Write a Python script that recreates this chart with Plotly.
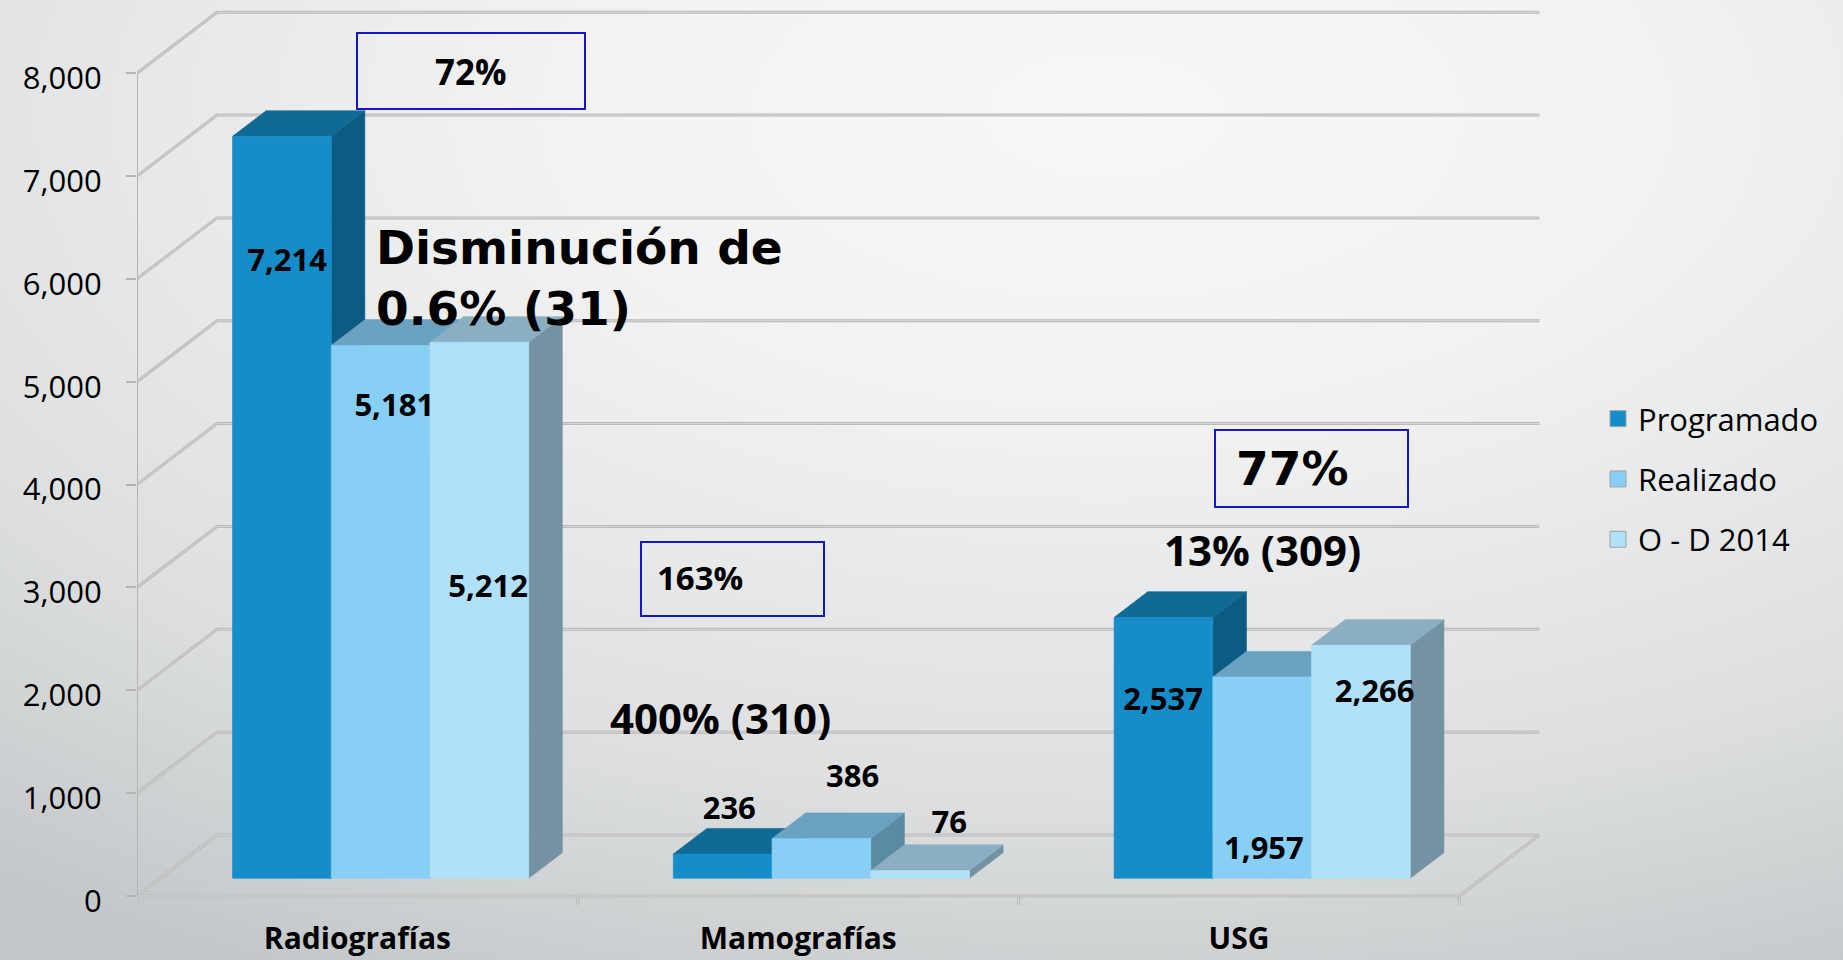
import base64
import plotly.graph_objects as go

# ---------------- data ----------------
categories = ["Radiografías", "Mamografías", "USG"]
series_names = ["Programado", "Realizado", "O - D 2014"]
programado = [7214, 236, 2537]
realizado = [5181, 386, 1957]
od_2014 = [5212, 76, 2266]
y_ticks = [0, 1000, 2000, 3000, 4000, 5000, 6000, 7000, 8000]

series_values = [programado, realizado, od_2014]

# ---------------- style ----------------
front_colors = ["#168DC9", "#88CFF6", "#B1E1F8"]
top_colors = ["#0F6A96", "#6AA3C2", "#8AAEC2"]
side_colors = ["#0D5B82", "#5B8AA3", "#7592A3"]
grid_color = "#B9B9B9"
grid_inner = "#D8D9D9"

# data-label placement (value units on the front plane / x offset in category units)
label_y = [[6149, 823, 1886], [4743, 1131, 434], [2983, 686, 1966]]
label_dx = [[0.012, 0.015, -0.001], [0.031, 0.071, 0.004], [0.020, 0.066, 0.031]]

W, H = 1843, 960
ML, MR, MT, MB = 137, 0, 0, 42
PX_PER_CAT = 440.8
PX_PER_UNIT = 0.10285
FLOOR_PX = 896.0

DX = 80 / PX_PER_CAT          # depth of the 3D box in category units
DY = 61 / PX_PER_UNIT         # depth of the 3D box in value units
BW = 0.224                    # bar width (category units)
F0 = 0.29                     # bar front position within depth
FD = 0.42                     # bar depth fraction


def xd(px):
    return (px - ML) / PX_PER_CAT - 0.5


def yd(py):
    return (FLOOR_PX - py) / PX_PER_UNIT


n_cat = len(categories)
x_left = -0.5
x_right = n_cat - 0.5
y_max = y_ticks[-1]

fig = go.Figure()


def line_trace(xs, ys, double=True):
    fig.add_trace(go.Scatter(x=xs, y=ys, mode="lines", line=dict(color=grid_color, width=3),
                             hoverinfo="skip", showlegend=False))
    if double:
        fig.add_trace(go.Scatter(x=xs, y=ys, mode="lines", line=dict(color=grid_inner, width=1),
                                 hoverinfo="skip", showlegend=False))


# ---------------- walls / grid ----------------
gx, gy = [], []
for v in y_ticks:
    gx += [x_left, x_left + DX, x_right + DX, None]
    gy += [v, v + DY, v + DY, None]
line_trace(gx, gy)
line_trace([x_left, x_right, x_right + DX], [0, 0, DY])
fig.add_trace(go.Scatter(x=[x_left, x_left], y=[0, y_max], mode="lines",
                         line=dict(color="#B4B4B4", width=2), hoverinfo="skip", showlegend=False))
tx, ty = [], []
tick_len = 9 / PX_PER_UNIT
for k in range(n_cat + 1):
    tx += [x_left + k, x_left + k, None]
    ty += [0, -tick_len, None]
line_trace(tx, ty)

# ---------------- 3D bars ----------------
base = F0 * DY
ddx, ddy = FD * DX, FD * DY


def poly(xs, ys, color):
    fig.add_trace(go.Scatter(x=xs + [xs[0]], y=ys + [ys[0]], mode="lines", fill="toself",
                             fillcolor=color, line=dict(color=color, width=0.6),
                             hoverinfo="skip", showlegend=False))


centers = [[0] * n_cat for _ in series_values]
for i in range(n_cat):
    for j, vals in enumerate(series_values):
        v = vals[i]
        x0 = i + (j - 1.5) * BW + F0 * DX
        x1 = x0 + BW
        t = base + v
        centers[j][i] = (x0 + x1) / 2
        poly([x1, x1 + ddx, x1 + ddx, x1], [base, base + ddy, t + ddy, t], side_colors[j])
        poly([x0, x1, x1 + ddx, x0 + ddx], [t, t, t + ddy, t + ddy], top_colors[j])
        poly([x0, x1, x1, x0], [base, base, t, t], front_colors[j])

# data labels
for j, vals in enumerate(series_values):
    fig.add_trace(go.Scatter(
        x=[centers[j][i] + label_dx[j][i] for i in range(n_cat)],
        y=label_y[j],
        mode="text",
        text=[f"{v:,}" for v in vals],
        textfont=dict(family="Open Sans", size=31, color="#000000", weight="bold"),
        hoverinfo="skip", showlegend=False))

# legend entries
for j, name in enumerate(series_names):
    fig.add_trace(go.Scatter(
        x=[None], y=[None], mode="markers", name=name, legendgroup=name,
        marker=dict(symbol="square", size=16, color=front_colors[j],
                    line=dict(color="#9AA4AA", width=1))))

# ---------------- annotations ----------------
box_line = dict(color="#1A14C8", width=2)
for (a, b, c, d) in [(357, 33, 585, 109), (641, 542, 824, 616), (1215, 430, 1408, 507)]:
    fig.add_shape(type="rect", xref="x", yref="y", x0=xd(a), x1=xd(c), y0=yd(d), y1=yd(b),
                  line=box_line, fillcolor="rgba(0,0,0,0)", layer="above")

cand = "Open Sans"
ann = [
    dict(text="72%", x=xd(471), y=yd(71), xanchor="center",
         font=dict(family=cand, size=35, weight="bold")),
    dict(text="163%", x=xd(655), y=yd(577), xanchor="left",
         font=dict(family=cand, size=33, weight="bold")),
    dict(text="77%", x=xd(1234), y=yd(468), xanchor="left",
         font=dict(family="DejaVu Sans", size=47, weight="bold")),
    dict(text="Disminución de<br>0.6% (31)", x=xd(374), y=yd(278), xanchor="left", align="left",
         font=dict(family="DejaVu Sans", size=47, weight="bold")),
    dict(text="400% (310)", x=xd(720), y=yd(717), xanchor="center",
         font=dict(family=cand, size=42, weight="bold")),
    dict(text="13% (309)", x=xd(1262), y=yd(549), xanchor="center",
         font=dict(family=cand, size=42, weight="bold")),
]
for a in ann:
    a["font"]["color"] = "#000000"
    fig.add_annotation(xref="x", yref="y", showarrow=False, yanchor="middle", **a)

# ---------------- background ----------------
svg = f'''<svg xmlns="http://www.w3.org/2000/svg" width="{W}" height="{H}" preserveAspectRatio="none">
<defs><radialGradient id="g" cx="0.6" cy="0.12" r="1.0" fx="0.6" fy="0.12">
<stop offset="0" stop-color="#F7F7F7"/><stop offset="0.3" stop-color="#F2F2F2"/>
<stop offset="0.5" stop-color="#E8E9EA"/><stop offset="0.72" stop-color="#DCDEDF"/>
<stop offset="1" stop-color="#C4C7C9"/></radialGradient></defs>
<rect x="0" y="0" width="{W}" height="{H}" fill="url(#g)"/></svg>'''
src = "data:image/svg+xml;base64," + base64.b64encode(svg.encode()).decode()
pw = W - ML - MR
ph = H - MT - MB
fig.add_layout_image(dict(source=src, xref="paper", yref="paper", x=-ML / pw, y=1 + MT / ph,
                          sizex=W / pw, sizey=H / ph, xanchor="left", yanchor="top",
                          sizing="stretch", layer="below"))

fig.update_layout(
    width=W, height=H,
    margin=dict(l=ML, r=MR, t=MT, b=MB, pad=0, autoexpand=False),
    paper_bgcolor="#C6C9CB", plot_bgcolor="rgba(0,0,0,0)",
    showlegend=True,
    legend=dict(x=(1598 - ML) / pw, y=1 - (392 - MT) / ph, xanchor="left", yanchor="top",
                font=dict(family="Open Sans", size=31, color="#000000"),
                bgcolor="rgba(0,0,0,0)", tracegroupgap=17, itemsizing="trace"),
    xaxis=dict(range=[xd(ML), xd(W - MR)], tickvals=list(range(n_cat)), ticktext=categories,
               showgrid=False, zeroline=False, showline=False, ticks="", automargin=False,
               tickfont=dict(family="Open Sans", size=30, color="#000000", weight="bold")),
    yaxis=dict(range=[yd(H - MB), yd(MT)], tickvals=y_ticks, tickformat=",", automargin=False,
               showgrid=False, zeroline=False, showline=False, ticks="outside", ticklen=10,
               tickcolor="#B4B4B4", tickwidth=2, ticklabelstandoff=18, ticklabelshift=5,
               tickfont=dict(family="Open Sans", size=31, color="#000000")),
)

fig.write_html(
    "out.html", config={"displayModeBar": False},
    post_script=("document.body.style.margin='0';"
                 "document.body.style.overflow='hidden';"
                 "document.documentElement.style.overflow='hidden';"))
